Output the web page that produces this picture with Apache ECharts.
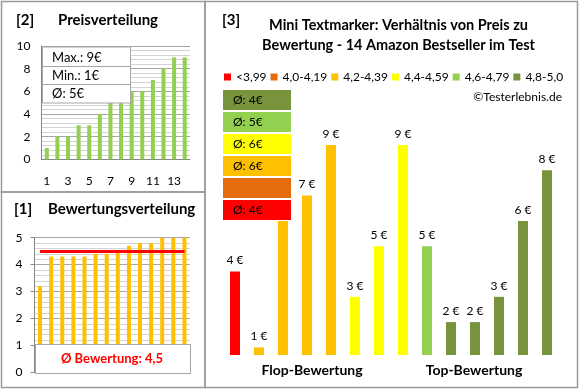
<!DOCTYPE html>
<html><head><meta charset="utf-8">
<script src="https://cdn.jsdelivr.net/npm/echarts@6/dist/echarts.min.js"></script>
<style>html,body{margin:0;padding:0;background:#fff}#c{width:580px;height:390px}</style>
</head><body><div id="c"></div>
<script>
// ---- data ----
const productIdx = ['1','2','3','4','5','6','7','8','9','10','11','12','13','14'];
const priceDist = [1,2,2,3,3,4,5,5,6,6,7,8,9,9];
const ratingDist = [3.2,4.3,4.3,4.3,4.3,4.4,4.4,4.5,4.7,4.8,4.8,5.0,5.0,5.0];
const flopTopPrices = [4,1,6,7,9,3,5,9,5,2,2,3,6,8];
const flopTopRatings = [3.2,4.3,4.3,4.3,4.3,4.4,4.4,4.5,4.7,4.8,4.8,5.0,5.0,5.0];
const classNames = ['<3,99','4,0-4,19','4,2-4,39','4,4-4,59','4,6-4,79','4,8-5,0'];
const classLower = [0,4.0,4.2,4.4,4.6,4.8];
const classColors = ['#FF0000','#E46C0A','#FFC000','#FFFF00','#92D050','#77933C'];

const FONT = 'Lato';
function classOf(r){let c=0;for(let i=0;i<classLower.length;i++){if(r>=classLower[i]-1e-9)c=i;}return c;}
const cls = flopTopRatings.map(classOf);
const mean = a => a.reduce((s,v)=>s+v,0)/a.length;

const chart = echarts.init(document.getElementById('c'), null, {renderer:'canvas'});

const rightSeries = classNames.map((n,ci)=>({
  name:n, type:'bar', stack:'all', xAxisIndex:2, yAxisIndex:2, barWidth:10,
  itemStyle:{color:classColors[ci]},
  label:{show:true, position:'top', distance:5, fontFamily:FONT, fontSize:12, color:'#000',
         formatter:p=>p.value+' €'},
  data: flopTopPrices.map((v,i)=>cls[i]===ci ? v : '-')
}));

// avg boxes (top to bottom: highest class first)
const boxG = [];
for (let k=0;k<6;k++){
  const ci = 5-k;
  const vals = flopTopPrices.filter((v,i)=>cls[i]===ci);
  const txt = vals.length ? 'Ø: '+Math.round(mean(vals))+'€' : '';
  const y = 90 + k*22;
  boxG.push({type:'rect', z:100, shape:{x:223,y:y,width:68,height:20}, style:{fill:classColors[ci]}});
  boxG.push({type:'text', z:101, style:{text:txt, x:233, y:y+10, verticalAlign:'middle', font:'12px '+FONT, fill:'#000'}});
}

const avgRating = mean(ratingDist);
const gridMajor = '#A6A6A6', gridMinor = '#D4D4D4', axisCol = '#868686', border = '#9A9A9A';

const option = {
  animation:false,
  textStyle:{fontFamily:FONT},
  grid:[
    {left:41.5, top:46, width:148.5, height:113.3},
    {left:34.5, top:237.7, width:155.5, height:134.6},
    {left:223, top:102, width:336, height:253}
  ],
  legend:{
    left:224, top:71, itemWidth:7, itemHeight:7, itemGap:4, icon:'rect', padding:0,
    textStyle:{fontFamily:FONT, fontSize:12, color:'#000'},
    inactiveColor:'#000',
    selectedMode:false,
    data:classNames.map((n,ci)=>({name:n, itemStyle:{color:classColors[ci]}, textStyle:{color:'#000'}}))
  },
  xAxis:[
    {gridIndex:0, type:'category', data:productIdx,
     axisLine:{lineStyle:{color:axisCol}}, axisTick:{show:false},
     axisLabel:{interval:1, margin:16, fontFamily:FONT, fontSize:12, color:'#000'}},
    {gridIndex:1, type:'category', data:productIdx,
     axisLine:{show:false}, axisTick:{show:false}, axisLabel:{show:false}},
    {gridIndex:2, type:'category', data:productIdx, show:false}
  ],
  yAxis:[
    {gridIndex:0, type:'value', min:0, max:10, interval:2,
     axisLine:{show:true, lineStyle:{color:axisCol}}, axisTick:{show:false},
     axisLabel:{margin:11, fontFamily:FONT, fontSize:12, color:'#000'},
     splitLine:{lineStyle:{color:gridMajor}},
     minorTick:{show:true, splitNumber:5, length:0},
     minorSplitLine:{show:true, lineStyle:{color:gridMinor}}},
    {gridIndex:1, type:'value', min:0, max:5, interval:1,
     axisLine:{show:true, lineStyle:{color:axisCol}},
     axisTick:{show:true, length:4, lineStyle:{color:axisCol}},
     axisLabel:{margin:12, fontFamily:FONT, fontSize:12, color:'#000'},
     splitLine:{lineStyle:{color:gridMajor}},
     minorTick:{show:true, splitNumber:5, length:0},
     minorSplitLine:{show:true, lineStyle:{color:gridMinor}}},
    {gridIndex:2, type:'value', min:0.7, max:10.7, show:false, splitLine:{show:false}}
  ],
  series:[
    {type:'bar', xAxisIndex:0, yAxisIndex:0, barWidth:4, itemStyle:{color:'#92D050'}, data:priceDist},
    {type:'bar', xAxisIndex:1, yAxisIndex:1, barWidth:4, itemStyle:{color:'#FFC000'}, data:ratingDist,
     markLine:{silent:true, symbol:'none', label:{show:false},
       lineStyle:{color:'#FF0000', width:3, type:'solid'},
       data:[[{coord:[0,avgRating]},{coord:[13,avgRating]}]]}},
    ...rightSeries
  ],
  graphic:[
    // panel borders
    {type:'rect', z:0, shape:{x:1.5,y:1.5,width:203.5,height:190.5}, style:{fill:null, stroke:border, lineWidth:1.5}},
    {type:'rect', z:0, shape:{x:1.5,y:192,width:203.5,height:195.5}, style:{fill:null, stroke:border, lineWidth:1.5}},
    {type:'rect', z:0, shape:{x:205,y:1.5,width:372.5,height:386}, style:{fill:null, stroke:border, lineWidth:1.5}},
    // titles
    {type:'text', z:100, style:{text:'[2]', x:16, y:20, verticalAlign:'middle', font:'bold 15px '+FONT, fill:'#000'}},
    {type:'text', z:100, style:{text:'Preisverteilung', x:58, y:20, verticalAlign:'middle', font:'bold 15px '+FONT, fill:'#000'}},
    {type:'text', z:100, style:{text:'[1]', x:14, y:209, verticalAlign:'middle', font:'bold 15px '+FONT, fill:'#000'}},
    {type:'text', z:100, style:{text:'Bewertungsverteilung', x:48, y:209, verticalAlign:'middle', font:'bold 15px '+FONT, fill:'#000'}},
    {type:'text', z:100, style:{text:'[3]', x:222, y:20, verticalAlign:'middle', font:'bold 15px '+FONT, fill:'#000'}},
    {type:'text', z:100, style:{text:'Mini Textmarker: Verhältnis von Preis zu', x:398.5, y:25, align:'center', verticalAlign:'middle', font:'bold 14.5px '+FONT, fill:'#000'}},
    {type:'text', z:100, style:{text:'Bewertung - 14 Amazon Bestseller im Test', x:398.5, y:45, align:'center', verticalAlign:'middle', font:'bold 14.5px '+FONT, fill:'#000'}},
    {type:'text', z:100, style:{text:'©Testerlebnis.de', x:562, y:97, align:'right', verticalAlign:'middle', font:'12px '+FONT, fill:'#000'}},
    {type:'text', z:100, style:{text:'Flop-Bewertung', x:312, y:370, align:'center', verticalAlign:'middle', font:'bold 14px '+FONT, fill:'#000'}},
    {type:'text', z:100, style:{text:'Top-Bewertung', x:474, y:370, align:'center', verticalAlign:'middle', font:'bold 14px '+FONT, fill:'#000'}},
    // [2] info box
    {type:'rect', z:100, shape:{x:42.5,y:47,width:88,height:56}, style:{fill:'#fff', stroke:'#A6A6A6', lineWidth:1}},
    {type:'line', z:100, shape:{x1:42.5,y1:66.5,x2:130.5,y2:66.5}, style:{stroke:'#A6A6A6', lineWidth:1}},
    {type:'line', z:100, shape:{x1:42.5,y1:84.5,x2:130.5,y2:84.5}, style:{stroke:'#A6A6A6', lineWidth:1}},
    {type:'text', z:101, style:{text:'Max.: '+Math.max(...priceDist)+'€', x:52, y:58, verticalAlign:'middle', font:'13px '+FONT, fill:'#000'}},
    {type:'text', z:101, style:{text:'Min.: '+Math.min(...priceDist)+'€', x:52, y:76, verticalAlign:'middle', font:'13px '+FONT, fill:'#000'}},
    {type:'text', z:101, style:{text:'Ø: '+Math.round(mean(priceDist))+'€', x:52, y:94, verticalAlign:'middle', font:'13px '+FONT, fill:'#000'}},
    // [1] info box
    {type:'rect', z:100, shape:{x:35.5,y:344.5,width:155,height:29}, style:{fill:'#fff', stroke:'#A6A6A6', lineWidth:1}},
    {type:'text', z:101, style:{text:'Ø Bewertung: '+avgRating.toFixed(1).replace('.',','), x:112, y:359, align:'center', verticalAlign:'middle', font:'bold 13px '+FONT, fill:'#FF0000'}},
    ...boxG
  ]
};
chart.setOption(option);
</script></body></html>
